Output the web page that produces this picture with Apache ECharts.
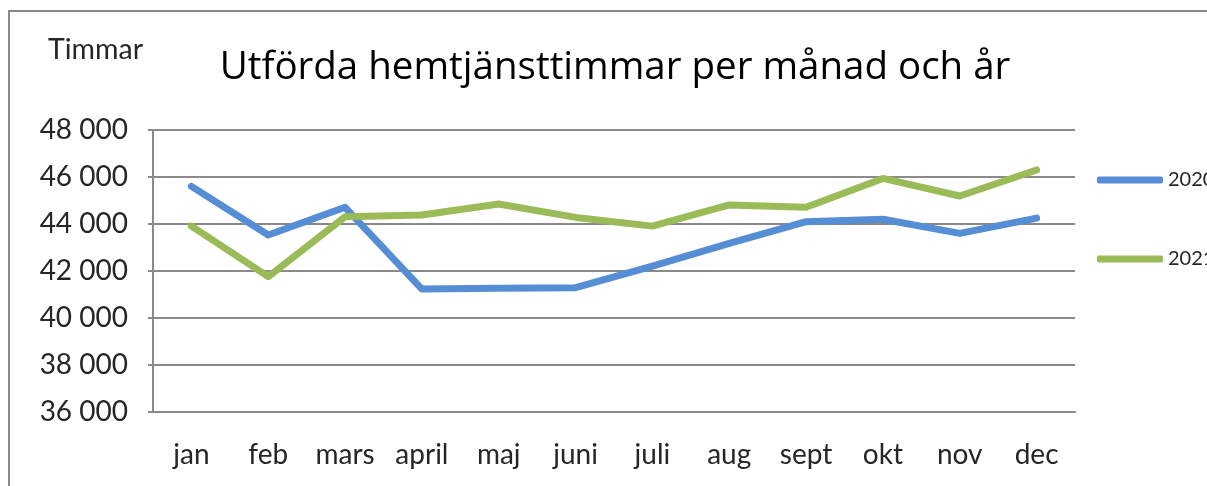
<!DOCTYPE html>
<html>
<head>
<meta charset="utf-8">
<script src="https://cdn.jsdelivr.net/npm/echarts@6/dist/echarts.min.js"></script>
<style>
  html, body { margin: 0; padding: 0; background: #fff; }
  #chart { width: 1207px; height: 486px; }
</style>
</head>
<body>
<div id="chart"></div>
<script>
// Månader på x-axeln
const months = ['jan', 'feb', 'mars', 'april', 'maj', 'juni', 'juli', 'aug', 'sept', 'okt', 'nov', 'dec'];
// Utförda timmar per månad
const hours2020 = [45600, 43530, 44710, 41230, 41270, 41290, 42210, 43180, 44100, 44200, 43600, 44250];
const hours2021 = [43910, 41760, 44310, 44380, 44850, 44280, 43910, 44810, 44710, 45940, 45190, 46300];
// Y-axelns skala
const yMin = 36000;
const yMax = 48000;
const yStep = 2000;

const labelFont = 'Lato, "Open Sans", sans-serif';
const textColor = '#262626';
const gridColor = '#8a8a8a';

const chart = echarts.init(document.getElementById('chart'), null, { renderer: 'canvas' });

const fmt = v => String(v).replace(/\B(?=(\d{3})+(?!\d))/g, ' ');

chart.setOption({
  animation: false,
  backgroundColor: '#ffffff',
  graphic: [
    {
      type: 'rect',
      shape: { x: 9, y: 11, width: 1400, height: 700 },
      style: { fill: 'none', stroke: '#8a8a8a', lineWidth: 2 },
      silent: true, z: -10
    },
    {
      type: 'text',
      x: 615, y: 68,
      style: {
        text: 'Utförda hemtjänsttimmar per månad och år',
        font: '38.5px "Open Sans", "Noto Sans", sans-serif',
        fill: '#000000',
        textAlign: 'center', textVerticalAlign: 'middle'
      }
    },
    {
      type: 'text',
      x: 48, y: 50,
      style: {
        text: 'Timmar',
        font: '28.5px ' + labelFont,
        fill: textColor,
        textAlign: 'left', textVerticalAlign: 'middle'
      }
    }
  ],
  legend: {
    orient: 'vertical',
    left: 1092,
    top: 163,
    itemWidth: 66,
    itemHeight: 7,
    itemGap: 55,
    icon: 'roundRect',
    textStyle: { fontFamily: labelFont, fontSize: 20, color: textColor, lineHeight: 24 },
    data: ['2020', '2021']
  },
  grid: { left: 153, right: 132, top: 130, bottom: 74, containLabel: false },
  xAxis: {
    type: 'category',
    data: months,
    boundaryGap: true,
    axisLine: { show: true, lineStyle: { color: gridColor, width: 2 } },
    axisTick: { show: false },
    axisLabel: { fontFamily: labelFont, fontSize: 28, color: textColor, margin: 29, interval: 0 },
    splitLine: { show: false }
  },
  yAxis: {
    type: 'value',
    min: yMin, max: yMax, interval: yStep,
    axisLine: { show: true, lineStyle: { color: gridColor, width: 2 } },
    axisTick: { show: true, length: 5, lineStyle: { color: gridColor, width: 2 } },
    axisLabel: { fontFamily: labelFont, fontSize: 28, color: textColor, margin: 25, formatter: fmt },
    splitLine: { show: true, lineStyle: { color: gridColor, width: 2 } }
  },
  series: [
    {
      name: '2020', type: 'line', data: hours2020,
      showSymbol: false, symbol: 'none',
      color: '#558ed5',
      lineStyle: { width: 7, color: '#558ed5', cap: 'round', join: 'round' }
    },
    {
      name: '2021', type: 'line', data: hours2021,
      showSymbol: false, symbol: 'none',
      color: '#9bbb59',
      lineStyle: { width: 7, color: '#9bbb59', cap: 'round', join: 'round' }
    }
  ]
});
</script>
</body>
</html>
